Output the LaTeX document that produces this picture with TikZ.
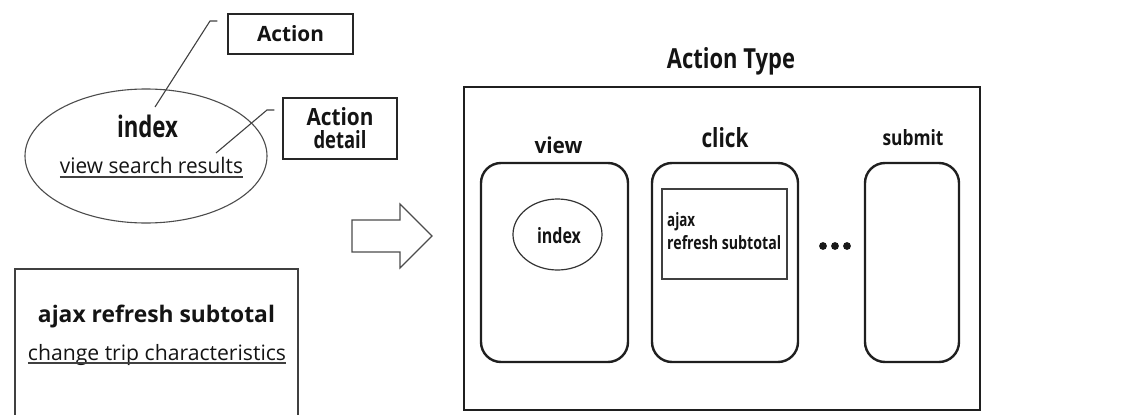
\documentclass[tikz,border=0pt]{standalone}
\usepackage{fontspec}
\setmainfont{Open Sans}
\usepackage{graphicx}
\usetikzlibrary{shapes.geometric}
\newcommand{\fw}[2]{\resizebox{#1}{!}{#2}}
\newcommand{\fwh}[3]{\resizebox{#1}{#2}{#3\vphantom{d}}}
\begin{document}
\begin{tikzpicture}[x=1pt,y=-1pt,
  txt/.style={inner sep=0pt, anchor=base, text=black!92},
  lblbox/.style={draw=black!85, line width=1.4pt, inner sep=0pt, text=black!92},
  rbox/.style={draw=black!88, line width=2.4pt, rounded corners=20pt},
  thinline/.style={draw=black!75, line width=1.1pt},
  ell/.style={draw=black!70, ellipse, line width=1.1pt, inner sep=0pt},
]
\useasboundingbox (0,0) rectangle (1128,415);

% ---- left: big ellipse with action / detail
\node[ell, minimum width=242pt, minimum height=134pt] (bigell) at (146,156) {};
\node[txt] (idx) at (147.5,137) {\fwh{61pt}{22.5pt}{\bfseries index}};
\node[txt] (vsr) at (151.5,173) {\fwh{183pt}{16.3pt}{view search results}};
\draw[thinline] ([yshift=-4pt]vsr.base west) -- ([yshift=-4pt]vsr.base east);

\node[lblbox, minimum width=125pt, minimum height=40pt] (act) at (290.5,34)
  {\fwh{67pt}{16pt}{\bfseries Action}};
\node[lblbox, minimum width=114pt, minimum height=61pt, align=center,
  font=\fontsize{10pt}{23pt}\selectfont] (det) at (340,128.5)
  {\fwh{67pt}{18pt}{\bfseries Action}\\\fwh{53pt}{18pt}{\bfseries detail}};

\coordinate (p1) at (155,107);
\coordinate (p2) at (216,153);
\draw[thinline] (p1) -- (210,21) -- ([shift={(-10pt,13pt)}]act.west);
\draw[thinline] (p2) -- (267,110) -- ([shift={(-8pt,18.5pt)}]det.west);

% ---- left bottom box
\draw[draw=black!75, line width=1.3pt] (15,415) -- (15,269) -- (298,269) -- (298,415);
\node[txt] (ars) at (156.5,322) {\fw{237pt}{\bfseries ajax refresh subtotal}};
\node[txt] (ctc) at (157,360) {\fw{258pt}{change trip characteristics}};
\draw[thinline] ([yshift=-3pt]ctc.base west) -- ([yshift=-3pt]ctc.base east);

% ---- big arrow
\draw[draw=black!70, line width=1.2pt, line join=miter]
  (352,220) -- (400,220) -- (400,204) -- (432,236) -- (400,268) -- (400,252) -- (352,252) -- cycle;

% ---- right: action type
\node[txt] (atype) at (731,68) {\fwh{128pt}{21pt}{\bfseries Action Type}};
\node[draw=black!88, line width=2pt, minimum width=516pt, minimum height=323pt, inner sep=0pt] (outer) at (722,248.5) {};

\node[txt] (lview) at (558.5,153) {\fwh{48pt}{16.7pt}{\bfseries view}};
\node[txt] (lclick) at (725,147) {\fwh{47pt}{20pt}{\bfseries click}};
\node[txt] (lsubmit) at (913,145) {\fwh{61pt}{16pt}{\bfseries submit}};

\node[rbox, minimum width=147pt, minimum height=199pt] (bview) at (554.5,262.5) {};
\node[rbox, minimum width=146pt, minimum height=199pt] (bclick) at (725,262.5) {};
\node[rbox, minimum width=94pt, minimum height=199pt] (bsubmit) at (912,262.5) {};

\node[ell, draw=black!80, line width=1.2pt, minimum width=89pt, minimum height=71pt] (sidx) at (557.5,234.5) {};
\node[txt] (sidxt) at (559,243) {\fwh{44pt}{16pt}{\bfseries index}};

\node[draw=black!75, line width=1.5pt, minimum width=125pt, minimum height=90pt, inner sep=0pt] (inr) at (724.5,234) {};
\node[inner sep=0pt, anchor=north west, align=left, text=black!92,
  font=\fontsize{10pt}{23pt}\selectfont] (inrt) at (667,212)
  {\fwh{28pt}{14pt}{\bfseries ajax}\\\fwh{114pt}{14pt}{\bfseries refresh subtotal}};

\foreach \x in {823,835,847} \fill[black!90] (\x,246) circle (3.9pt);
\end{tikzpicture}
\end{document}
